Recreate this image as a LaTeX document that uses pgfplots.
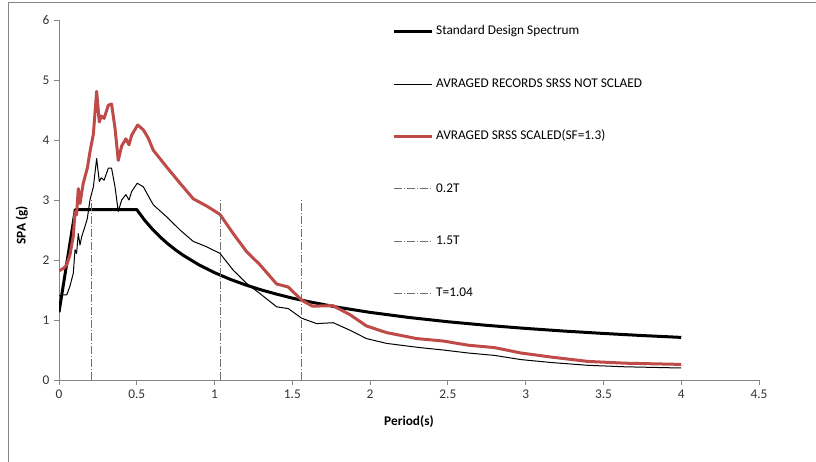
\documentclass[border=0pt]{standalone}
\usepackage{fontspec}
\setmainfont{Carlito}
\usepackage{pgfplots}
\pgfplotsset{compat=1.18}
\definecolor{srssred}{HTML}{BE4B48}
\definecolor{axisgray}{HTML}{868686}
\definecolor{vgray}{HTML}{707070}
\begin{document}
\begin{tikzpicture}
\useasboundingbox (0pt,0pt) rectangle (612pt,345.75pt);
\draw[axisgray, line width=0.75pt] (6pt,-1pt) -- (6pt,343.5pt) -- (613pt,343.5pt);
\begin{axis}[
  at={(44.25pt,60.75pt)}, anchor=origin,
  scale only axis, width=525pt, height=270pt,
  xmin=0, xmax=4.5, ymin=0, ymax=6,
  xtick={0,0.5,1,1.5,2,2.5,3,3.5,4,4.5},
  ytick={0,1,2,3,4,5,6},
  axis x line*=bottom, axis y line*=left,
  axis line style={draw=axisgray, line width=0.75pt, -},
  tick align=outside, major tick length=3.75pt,
  tick style={axisgray, line width=0.75pt},
  /pgf/number format/assume math mode=true,
  ticklabel style={font=\fontsize{10}{12}\selectfont, text=black!80},
  xlabel={\textbf{Period(s)}},
  ylabel={\textbf{SPA (g)}},
  label style={font=\fontsize{10}{12}\selectfont},
  xlabel style={at={(axis description cs:0.5,-0.116)}, anchor=center},
  ylabel style={at={(axis description cs:-0.053,0.43)}, anchor=center},
  legend cell align=left,
  /pgfplots/legend image code/.code={\draw[#1] (0pt,0pt) -- (28.5pt,0pt);},
  legend style={at={(0.476,1.0)}, anchor=north west, draw=none, fill=none,
    font=\fontsize{10}{12}\selectfont, row sep=26.3pt, inner xsep=0pt, inner ysep=2pt,
    nodes={inner sep=2pt, text height=7pt, text depth=2pt}},
]
% Standard design spectrum
\addplot[black, line width=2.25pt, line join=round] coordinates {
(0,1.13) (0.105,2.84) (0.5,2.84) (0.55,2.665) (0.6,2.515) (0.65,2.384) (0.7,2.269)
(0.75,2.167) (0.8,2.076) (0.9,1.919) (1.0,1.789) (1.1,1.679) (1.2,1.584) (1.3,1.502)
(1.4,1.430) (1.5,1.365) (1.6,1.308) (1.8,1.209) (2.0,1.127) (2.25,1.042) (2.5,0.971)
(2.75,0.911) (3.0,0.860) (3.25,0.815) (3.5,0.776) (3.75,0.741) (4.0,0.710)
};
\addlegendentry{Standard Design Spectrum}
% Averaged records SRSS not scaled
\addplot[black, line width=0.75pt, line join=round] coordinates {
(0,1.40) (0.028,1.42) (0.05,1.42) (0.07,1.56) (0.092,1.78) (0.103,2.17) (0.113,2.11)
(0.124,2.44) (0.135,2.25) (0.146,2.39) (0.167,2.56) (0.182,2.69) (0.199,3.00) (0.221,3.22)
(0.242,3.69) (0.259,3.31) (0.272,3.37) (0.29,3.33) (0.317,3.53) (0.338,3.53) (0.36,3.22)
(0.381,2.81) (0.403,3.00) (0.43,3.09) (0.45,3.00) (0.467,3.14) (0.503,3.28) (0.542,3.22)
(0.606,2.92) (0.692,2.72) (0.778,2.50) (0.863,2.31) (0.949,2.22) (1.035,2.11) (1.12,1.83)
(1.206,1.61) (1.292,1.44) (1.399,1.22) (1.474,1.19) (1.56,1.03) (1.656,0.94) (1.763,0.955)
(1.87,0.83) (1.977,0.69) (2.106,0.61) (2.32,0.54) (2.47,0.50) (2.63,0.45) (2.80,0.41)
(2.97,0.34) (3.17,0.29) (3.40,0.245) (3.64,0.22) (4.0,0.20)
};
\addlegendentry{AVRAGED RECORDS SRSS NOT SCLAED}
% Averaged SRSS scaled
\addplot[srssred, line width=2.25pt, line join=round] coordinates {
(0,1.82) (0.028,1.86) (0.05,1.92) (0.07,2.08) (0.092,2.40) (0.103,2.80) (0.113,2.75)
(0.124,3.19) (0.135,2.94) (0.146,3.12) (0.156,3.28) (0.182,3.53) (0.199,3.80) (0.221,4.10)
(0.242,4.81) (0.259,4.30) (0.272,4.40) (0.29,4.36) (0.317,4.58) (0.338,4.60) (0.36,4.20)
(0.381,3.66) (0.403,3.90) (0.43,4.02) (0.45,3.92) (0.467,4.08) (0.506,4.25) (0.542,4.17)
(0.574,4.03) (0.606,3.83) (0.649,3.69) (0.692,3.55) (0.778,3.28) (0.863,3.02) (0.949,2.90)
(1.035,2.76) (1.12,2.44) (1.206,2.14) (1.292,1.92) (1.399,1.60) (1.474,1.55) (1.56,1.33)
(1.63,1.23) (1.76,1.24) (1.87,1.09) (1.977,0.90) (2.106,0.79) (2.30,0.69) (2.47,0.65)
(2.63,0.58) (2.80,0.54) (2.97,0.45) (3.17,0.38) (3.40,0.31) (3.64,0.28) (4.0,0.26)
};
\addlegendentry{AVRAGED SRSS SCALED(SF=1.3)}
% vertical markers
\addplot[vgray, line width=0.75pt, dash pattern=on 6pt off 1.5pt on 0.75pt off 1.5pt] coordinates {(0.208,0) (0.208,3)};
\addlegendentry{0.2T}
\addplot[vgray, line width=0.75pt, dash pattern=on 6pt off 1.5pt on 0.75pt off 1.5pt] coordinates {(1.56,0) (1.56,3)};
\addlegendentry{1.5T}
\addplot[vgray, line width=0.75pt, dash pattern=on 6pt off 1.5pt on 0.75pt off 1.5pt] coordinates {(1.04,0) (1.04,3)};
\addlegendentry{T=1.04}
\end{axis}
\end{tikzpicture}
\end{document}
